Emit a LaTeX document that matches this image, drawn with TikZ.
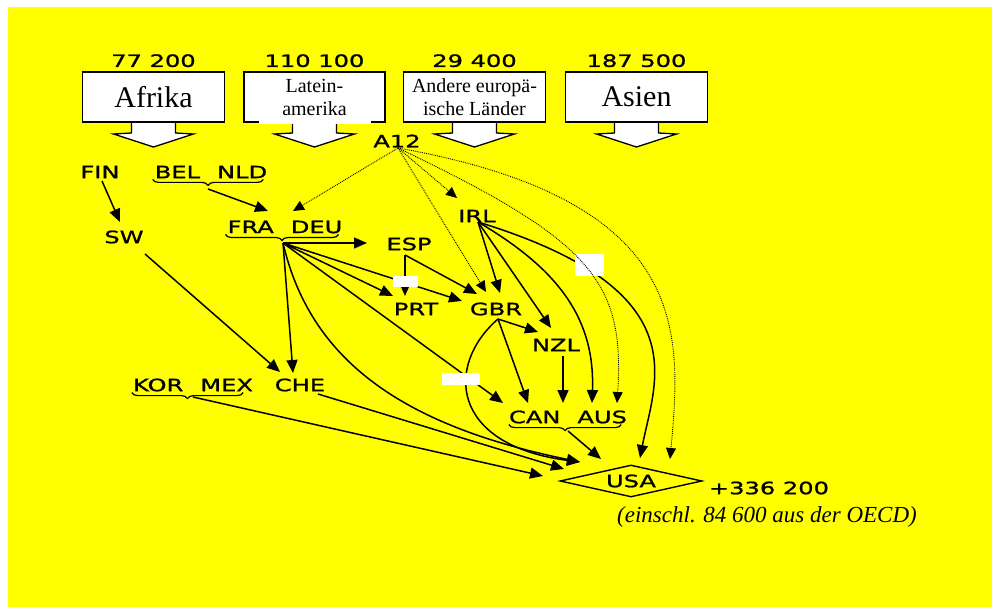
\documentclass[tikz,border=0pt]{standalone}
\usepackage{fontspec}
\setmainfont{Liberation Serif}
\newfontfamily\comicfont[FakeStretch=1.42, FakeBold=1.2]{DejaVu Sans}
\usetikzlibrary{arrows.meta,calc,positioning,shapes.geometric,decorations.pathreplacing}

\definecolor{bgyellow}{RGB}{255,255,0}
\newcommand{\cgap}{\hspace{17pt}}

\tikzset{
  cty/.style={font=\comicfont\fontsize{17}{20}\selectfont, inner sep=0pt},
  regbox/.style={draw, line width=1.3pt, fill=white, minimum width=142pt, minimum height=50pt, inner sep=0pt, align=center},
  bigname/.style={font=\fontsize{30}{32}\selectfont},
  smallname/.style={font=\fontsize{20}{23}\selectfont},
  flow/.style={line width=1.5pt, -{Triangle[length=13pt,width=11pt]}},
  a12flow/.style={line width=0.9pt, densely dotted, -{Triangle[length=11pt,width=10pt]}},
  brc/.style={decorate, decoration={brace, mirror, amplitude=6pt}, line width=1.2pt},
  cover/.style={fill=white}
}

\begin{document}
\begin{tikzpicture}[x=1pt, y=-1pt]
\useasboundingbox (0,0) rectangle (992,607);
\fill[white] (0,0) rectangle (992,607);
\fill[bgyellow] (8,7) rectangle (992,607);

% regions of origin
\foreach \cx in {153.5,314.5,474.5,636.5}
  \draw[line width=1.3pt, fill=white] (\cx-22,120) -- (\cx-22,133) -- (\cx-40,134)
    -- (\cx,147) -- (\cx+40,134) -- (\cx+22,133) -- (\cx+22,120);

\node[regbox, bigname] (afrika) at (153.5,97) {Afrika};
\node[regbox, smallname, minimum width=141pt] (latein) at (314.5,97) {Latein-\\amerika};
\fill[cover] ($(latein.south west)+(16,-3)$) rectangle ($(latein.south east)+(-15,1)$);
\node[regbox, smallname] (andere) at (474.5,97) {Andere europä-\\ische Länder};
\node[regbox, bigname] (asien) at (636.5,97) {Asien};

\node[cty, above=4pt of afrika] {77 200};
\node[cty, above=4pt of latein] {110 100};
\node[cty, above=4pt of andere] {29 400};
\node[cty, above=4pt of asien] {187 500};

% countries
\node[cty] (a12) at (397,141) {A12};
\node[cty] (fin) at (100,172) {FIN};
\node[cty] (belnld) at (211,172) {BEL\cgap NLD};
\node[cty] (sw) at (124,237) {SW};
\node[cty] (fradeu) at (285,227) {FRA\cgap DEU};
\node[cty] (esp) at (409,244) {ESP};
\node[cty] (irl) at (477,216) {IRL};
\node[cty] (prt) at (416,309) {PRT};
\node[cty] (gbr) at (496,309) {GBR};
\node[cty] (nzl) at (556,345) {NZL};
\node[cty] (kormex) at (193,385) {KOR\cgap MEX};
\node[cty] (che) at (300,385) {CHE};
\node[cty] (canaus) at (568,417) {CAN\cgap AUS};
\node[cty, draw, diamond, aspect=4, line width=1.4pt, minimum width=142pt, minimum height=32pt] (usa) at (631,481) {USA};

\node[cty] (total) at (769,488) {+336 200};
\node[font=\itshape\fontsize{23}{25}\selectfont] (oecd) at (767,517) {(einschl. 84 600 aus der OECD)};

% braces
\draw[brc] ($(belnld.south west)+(-2,1)$) -- ($(belnld.south east)+(-4,1)$);
\draw[brc] ($(fradeu.south west)+(-2,1)$) -- ($(fradeu.south east)+(-4,1)$);
\draw[brc] ($(kormex.south west)+(-1,1)$) -- ($(kormex.south east)+(-10,1)$);
\draw[brc] ($(canaus.south west)+(0,1)$) -- ($(canaus.south east)+(-6,1)$);
\coordinate (belnld-tip) at ($(belnld)+(-3,17)$);
\coordinate (fradeu-tip) at ($(fradeu)+(-2,16)$);
\coordinate (kormex-tip) at ($(kormex)+(0,12)$);
\coordinate (canaus-tip) at ($(canaus)+(0,14)$);

% flows
\draw[flow] ($(fin)+(2,9)$) -- ($(sw)+(-4,-15)$);
\draw[flow] (belnld-tip) -- ($(fradeu)+(-17,-16)$);
\draw[flow] (fradeu-tip) -- ($(esp)+(-42,-1)$);
\draw[flow] (fradeu-tip) -- ($(prt)+(-23,-13)$);
\draw[flow] (fradeu-tip) -- ($(gbr)+(-34,-8)$);
\draw[flow] (fradeu-tip) -- ($(che)+(-7,-12)$);
\draw[flow] (fradeu-tip) -- ($(canaus)+(-65,-14)$);
\draw[flow] (fradeu-tip) .. controls +(27,116) and +(-180,-37) .. ($(usa)+(-51,-19)$);
\draw[flow] ($(gbr)+(2,10)$) -- ($(nzl)+(-18,-13)$);
\draw[flow] ($(gbr)+(2,10)$) -- ($(canaus)+(-40,-14)$);
\draw[flow] ($(gbr)+(2,10)$) .. controls +(-53,46) and +(-130,-17) .. ($(usa)+(-51,-19)$);
\draw[flow] ($(esp)+(-4,11)$) -- ($(prt)+(-11,-13)$);
\draw[flow] ($(esp)+(-4,11)$) -- ($(gbr)+(-19,-15)$);
\draw[flow] ($(irl)+(1,6)$) -- ($(gbr)+(4,-16)$);
\draw[flow] ($(irl)+(1,6)$) -- ($(nzl)+(-5,-17)$);
\draw[flow] ($(irl)+(1,6)$) .. controls +(82,48) and +(3,-83) .. ($(canaus)+(24,-14)$);
\draw[flow] ($(irl)+(1,6)$) .. controls +(222,68) and +(15,-78) .. ($(usa)+(9,-23)$);
\draw[flow] ($(nzl)+(7,11)$) -- ($(canaus)+(-5,-14)$);
\draw[flow] (canaus-tip) -- ($(usa)+(-30,-22)$);
\draw[flow] ($(sw)+(21,17)$) -- ($(che)+(-20,-13)$);
\draw[flow] (kormex-tip) -- ($(usa)+(-88,-5)$);
\draw[flow] ($(che)+(18,9)$) -- ($(usa)+(-67,-12)$);

\fill[cover] (393,276) rectangle (418,287);
\fill[cover] (575,254) rectangle (604,276);
\fill[cover] (442,373) rectangle (480,385);

% A12 flows
\draw[a12flow] ($(a12)+(1,7)$) -- ($(fradeu)+(8,-16)$);
\draw[a12flow] ($(a12)+(1,7)$) -- ($(irl)+(-20,-18)$);
\draw[a12flow] ($(a12)+(1,7)$) -- ($(gbr)+(-10,-17)$);
\draw[a12flow] ($(a12)+(1,7)$) .. controls +(192,92) and +(8,-123) .. ($(canaus)+(49,-14)$);
\draw[a12flow] ($(a12)+(1,7)$) .. controls +(292,52) and +(12,-129) .. ($(usa)+(39,-22)$);
\end{tikzpicture}
\end{document}
